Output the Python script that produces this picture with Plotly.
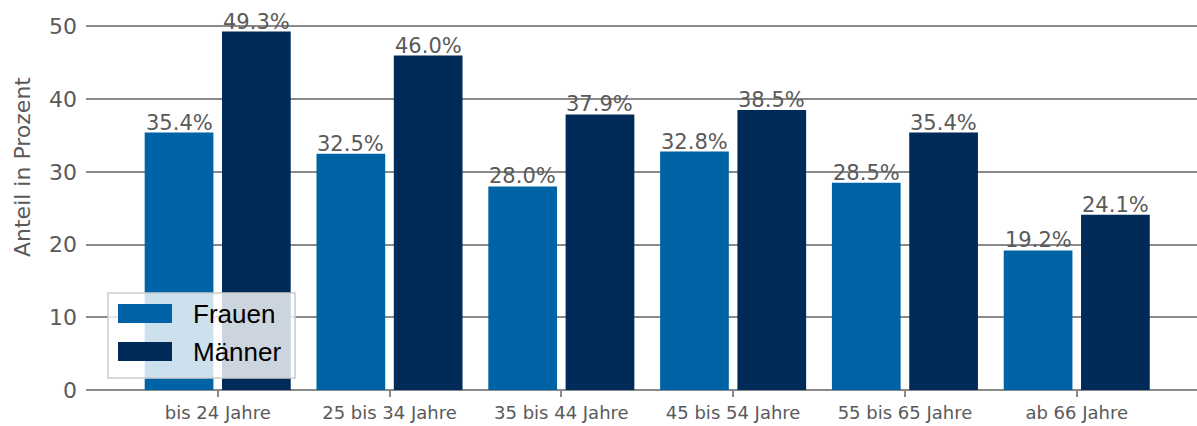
import plotly.graph_objects as go

categories = ["bis 24 Jahre", "25 bis 34 Jahre", "35 bis 44 Jahre",
              "45 bis 54 Jahre", "55 bis 65 Jahre", "ab 66 Jahre"]
frauen = [35.4, 32.5, 28.0, 32.8, 28.5, 19.2]
maenner = [49.3, 46.0, 37.9, 38.5, 35.4, 24.1]
y_ticks = [0, 10, 20, 30, 40, 50]

C_F = "#0063A6"
C_M = "#002B58"
GREY_TXT = "#5a5a5a"
GRID = "#8a8a8a"

W, H = 1197, 426
L, R, T, B = 86, 0, 0, 36
X_RANGE = [-0.7666, 5.700]
BAR_W = 0.4
OFF_F, OFF_M = -0.425, 0.025

fig = go.Figure()
fig.add_trace(go.Bar(
    x=categories, y=frauen, name="Frauen", marker=dict(color=C_F, line=dict(width=0)),
    width=BAR_W, offset=OFF_F, showlegend=False,
))
fig.add_trace(go.Bar(
    x=categories, y=maenner, name="Männer", marker=dict(color=C_M, line=dict(width=0)),
    width=BAR_W, offset=OFF_M, showlegend=False,
))

pw, ph = W - L - R, H - T - B
unit_px = pw / (X_RANGE[1] - X_RANGE[0])

# value labels above bars
for vals, off in [(frauen, OFF_F), (maenner, OFF_M)]:
    for cat, v in zip(categories, vals):
        fig.add_annotation(x=cat, y=v, xref="x", yref="y", text=f"{v:.1f}%",
                           showarrow=False, xanchor="center", yanchor="bottom",
                           xshift=(off + BAR_W / 2) * unit_px, yshift=-4,
                           font=dict(family="DejaVu Sans", size=21, color=GREY_TXT))

# manual legend (paper coords)
def px(x):
    return (x - L) / pw
def py(y):
    return (H - B - y) / ph

fig.add_shape(type="rect", xref="paper", yref="paper", layer="above",
              x0=px(108), x1=px(295), y0=py(378), y1=py(293),
              fillcolor="rgba(255,255,255,0.8)", line=dict(color="#cccccc", width=1.5))
fig.add_shape(type="rect", xref="paper", yref="paper", layer="above",
              x0=px(118), x1=px(172), y0=py(323), y1=py(304),
              fillcolor=C_F, line=dict(width=0))
fig.add_shape(type="rect", xref="paper", yref="paper", layer="above",
              x0=px(118), x1=px(172), y0=py(361), y1=py(342),
              fillcolor=C_M, line=dict(width=0))
for name, yc in [("Frauen", 314), ("Männer", 352)]:
    fig.add_annotation(xref="paper", yref="paper", x=px(191), y=py(yc),
                       xanchor="left", yanchor="middle", text=name, showarrow=False,
                       font=dict(family="Liberation Sans", size=26, color="#000000"))

# y-axis title
fig.add_annotation(xref="paper", yref="paper", x=px(22), y=py(167),
                   xanchor="center", yanchor="middle", text="Anteil in Prozent",
                   textangle=-90, showarrow=False,
                   font=dict(family="DejaVu Sans", size=22, color=GREY_TXT))

fig.update_layout(
    width=W, height=H, margin=dict(l=L, r=R, t=T, b=B),
    paper_bgcolor="white", plot_bgcolor="white",
    barmode="overlay", showlegend=False,
    xaxis=dict(range=X_RANGE, showgrid=False, ticks="outside", ticklen=6,
               tickwidth=2, tickcolor=GRID, showline=False,
               tickfont=dict(family="DejaVu Sans", size=18, color=GREY_TXT)),
    yaxis=dict(range=[0, 53.64], tickvals=y_ticks, showgrid=True, gridcolor=GRID,
               gridwidth=2, zeroline=True, zerolinecolor=GRID, zerolinewidth=2,
               ticks="", ticklabelstandoff=8,
               tickfont=dict(family="DejaVu Sans", size=22, color=GREY_TXT)),
)

fig.write_html("out.html", config={"displayModeBar": False},
               post_script="document.body.style.margin='0px';")
